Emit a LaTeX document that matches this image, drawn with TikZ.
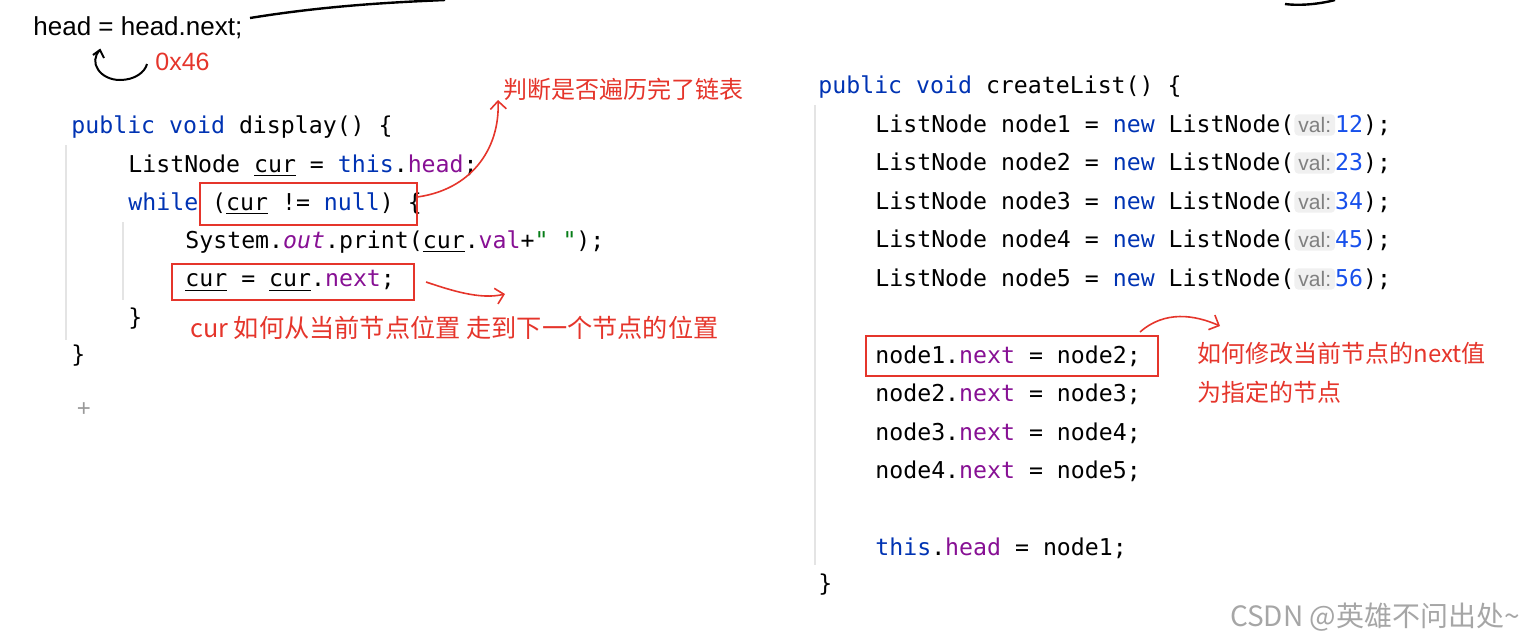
\documentclass[tikz,border=0pt]{standalone}
\usetikzlibrary{arrows.meta}
\usepackage{fontspec}
\setmainfont{Liberation Sans}
\setmonofont{DejaVu Sans Mono}
\newfontfamily\cjk{Noto Sans CJK SC}
\definecolor{kw}{HTML}{0033B3}
\definecolor{fld}{HTML}{871094}
\definecolor{num}{HTML}{1750EB}
\definecolor{str}{HTML}{067D17}
\definecolor{ann}{HTML}{E5352B}
\definecolor{guide}{HTML}{E4E4E4}
\newcommand{\K}[1]{\textcolor{kw}{#1}}
\newcommand{\F}[1]{\textcolor{fld}{#1}}
\newcommand{\N}[1]{\textcolor{num}{#1}}
\newcommand{\Hint}[1]{\tikz[baseline=(h.base)]\node[fill=black!6,rounded corners=2pt,inner xsep=2pt,inner ysep=1.5pt,font=\rmfamily\fontsize{10.5}{12}\selectfont,text=black!50](h){#1};}
\begin{document}
\begin{tikzpicture}[x=0.5pt,y=-0.5pt,
  code/.style={anchor=west,inner sep=0,font=\ttfamily\fontsize{11.6}{13}\selectfont},
  note/.style={anchor=west,inner sep=0,text=ann,font=\cjk\fontsize{12}{14}\selectfont},
  rbox/.style={draw=ann,line width=1pt},
  rarr/.style={draw=ann,line width=0.8pt,-{Straight Barb[length=4pt]}},
  gl/.style={draw=guide,line width=0.8pt}]
\useasboundingbox (0,0) rectangle (1530,643);
% top scribbles
\draw[line width=1.2pt] (250,18) .. controls (330,5) and (400,2) .. (445,0);
\draw[line width=1.2pt] (1285,4) .. controls (1300,6) and (1320,4) .. (1335,0);
\node[anchor=west,inner sep=0,font=\fontsize{13}{15}\selectfont] (hd) at (33,28) {head = head.next;};
\draw[line width=1pt] (100,50) .. controls (88,62) and (100,80) .. (120,80) .. controls (135,80) and (145,72) .. (147,64);
\draw[line width=1pt] (93,55) -- (100,50) -- (104,58);
\node[anchor=west,inner sep=0,text=ann,font=\fontsize{12.5}{14}\selectfont] (hx) at (155,62) {0x46};
% left code
\draw[gl] (66,145) -- (66,340);
\draw[gl] (123,222) -- (123,300);
\node[code] (l1) at (71,127) {\K{public void} display() \{};
\node[code] (l2) at (128,166) {ListNode \underline{cur} = \K{this}.\F{head};};
\node[code] (l3) at (128,204) {\K{while} (\underline{cur} != \K{null}) \{};
\node[code] (l4) at (185,242) {System.\F{\itshape out}.print(\underline{cur}.\F{val}+\textcolor{str}{" "});};
\node[code] (l5) at (185,281) {\underline{cur} = \underline{cur}.\F{next};};
\node[code] (l6) at (128,319) {\}};
\node[code] (l7) at (71,356) {\}};
\node[text=black!40,font=\fontsize{12}{12}\selectfont] (plus) at (84,410) {+};
\draw[rbox] (200,183) rectangle (417,225);
\draw[rbox] (172,264) rectangle (414,300);
\coordinate (b1) at (417,197);
\coordinate (b2) at (426,282);
\node[note] (n1) at (503,89) {判断是否遍历完了链表};
\draw[rarr] (b1) .. controls (470,190) and (500,150) .. (498,100);
\draw[rarr] (b2) .. controls (450,290) and (480,300) .. (505,294);
\node[note,font=\cjk\fontsize{12.6}{14}\selectfont] (n2) at (190,328) {cur 如何从当前节点位置 走到下一个节点的位置};
% right code
\draw[gl] (815,105) -- (815,565);
\node[code] (r0) at (818,87) {\K{public void} createList() \{};
\foreach \i/\v/\yy in {1/12/125,2/23/163,3/34/202,4/45/240,5/56/279}
  \node[code] (rn\i) at (875,\yy) {ListNode node\i{} = \K{new} ListNode(\Hint{val:}\N{\v});};
\foreach \i/\j/\yy in {1/2/356,2/3/394,3/4/433,4/5/471}
  \node[code] (rl\i) at (875,\yy) {node\i.\F{next} = node\j;};
\node[code] (rh) at (875,548) {\K{this}.\F{head} = node1;};
\node[code] (rc) at (818,585) {\}};
\draw[rbox] (866,336) rectangle (1158,376);
\coordinate (b3) at (1140,332);
\draw[rarr] (b3) .. controls (1165,310) and (1195,315) .. (1220,326);
\node[note] (n3) at (1197,353) {如何修改当前节点的next值};
\node[note] (n4) at (1197,392) {为指定的节点};
\node[anchor=east,inner sep=0,text=black!35,font=\cjk\fontsize{14}{16}\selectfont] (wm) at (1520,617) {CSDN @英雄不问出处\textasciitilde};
\end{tikzpicture}
\end{document}
